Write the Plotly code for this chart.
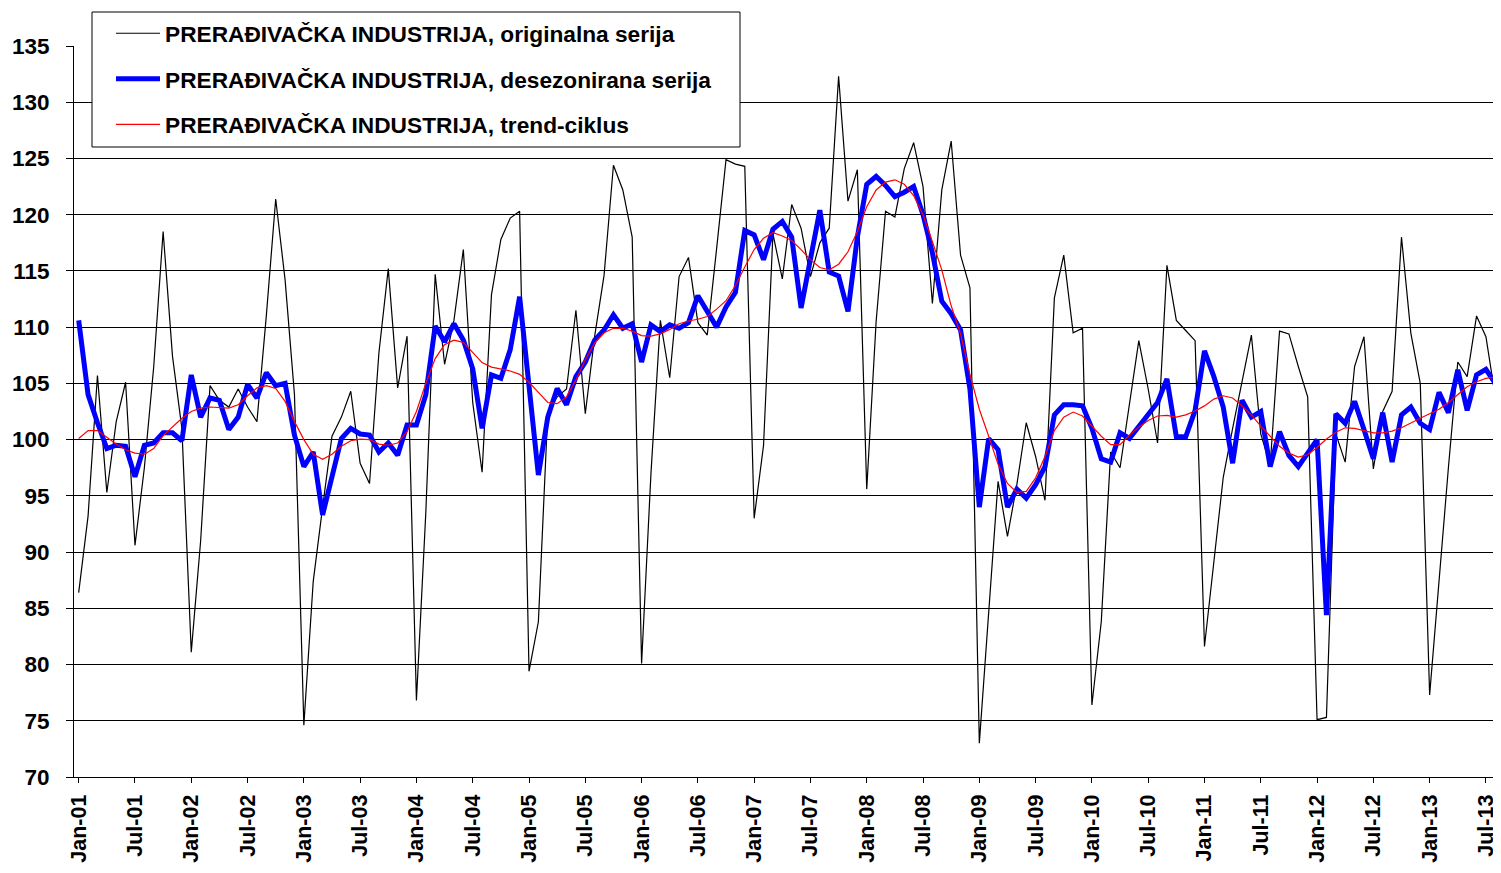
import plotly.graph_objects as go

# Monthly categories Jan-01 .. Aug-13
month_names = ["Jan", "Feb", "Mar", "Apr", "May", "Jun", "Jul", "Aug", "Sep", "Oct", "Nov", "Dec"]
categories = [f"{m}-{y:02d}" for y in range(1, 14) for m in month_names][:152]

tick_labels = ["Jan-01", "Jul-01", "Jan-02", "Jul-02", "Jan-03", "Jul-03", "Jan-04", "Jul-04",
               "Jan-05", "Jul-05", "Jan-06", "Jul-06", "Jan-07", "Jul-07", "Jan-08", "Jul-08",
               "Jan-09", "Jul-09", "Jan-10", "Jul-10", "Jan-11", "Jul-11", "Jan-12", "Jul-12",
               "Jan-13", "Jul-13"]

original = [
    86.4, 93.2, 105.7, 95.3, 101.6, 105.1, 90.6, 97.5, 106.5, 118.5, 107.4, 101.0,
    81.1, 91.0, 104.8, 103.5, 102.9, 104.5, 102.9, 101.6, 111.0, 121.4, 114.2, 104.0,
    74.6, 87.4, 94.0, 100.3, 102.0, 104.3, 97.9, 96.1, 107.7, 115.2, 104.6, 109.2,
    76.8, 93.5, 114.7, 106.7, 110.6, 116.9, 103.3, 97.1, 112.9, 117.8, 119.7, 120.3,
    79.4, 83.8, 102.4, 103.8, 104.5, 111.5, 102.3, 109.2, 114.6, 124.4, 122.2, 118.0,
    80.1, 97.0, 110.6, 105.5, 114.5, 116.2, 110.4, 109.3, 117.0, 124.9, 124.5, 124.3,
    93.0, 99.5, 118.3, 114.3, 120.9, 118.8, 114.5, 117.5, 118.8, 132.3, 121.2, 124.0,
    95.6, 110.5, 120.3, 119.8, 124.1, 126.4, 122.5, 112.1, 122.2, 126.55, 116.4, 113.5,
    73.0, 85.0, 96.3, 91.4, 96.0, 101.5, 98.5, 94.6, 112.6, 116.4, 109.5, 109.9,
    76.4, 83.8, 98.9, 97.5, 103.0, 108.8, 104.5, 99.7, 115.5, 110.6, 109.7, 108.8,
    81.6, 89.0, 96.65, 101.0, 105.0, 109.3, 100.5, 97.7, 109.65, 109.4, 106.5, 103.8,
    75.1, 75.3, 100.5, 98.0, 106.5, 109.15, 97.4, 102.5, 104.3, 118.0, 109.45, 105.0,
    77.3, 87.5, 97.5, 106.9, 105.6, 111.0, 109.15, 103.8,
]

seasonally_adjusted = [
    110.6, 104.0, 101.5, 99.2, 99.5, 99.4, 96.7, 99.5, 99.7, 100.6, 100.6, 99.9,
    105.75, 102.0, 103.7, 103.5, 100.9, 102.0, 104.9, 103.7, 105.95, 104.8, 105.0, 100.4,
    97.6, 98.9, 93.3, 96.8, 100.1, 101.0, 100.5, 100.4, 98.9, 99.7, 98.6, 101.3,
    101.3, 104.0, 110.1, 108.7, 110.3, 108.85, 106.3, 101.0, 105.75, 105.45, 108.0, 112.7,
    105.0, 96.85, 102.0, 104.55, 103.1, 105.6, 106.9, 108.85, 109.75, 111.1, 109.9, 110.3,
    106.9, 110.2, 109.6, 110.2, 109.9, 110.4, 112.8, 111.5, 110.0, 111.8, 113.1, 118.6,
    118.2, 116.0, 118.7, 119.4, 118.0, 111.7, 116.0, 120.4, 114.9, 114.55, 111.4, 118.0,
    122.7, 123.4, 122.6, 121.6, 122.0, 122.5, 120.0, 116.6, 112.3, 111.2, 109.75, 104.5,
    94.0, 100.1, 99.1, 94.0, 95.6, 94.8, 96.0, 97.6, 102.2, 103.1, 103.1, 103.0,
    101.0, 98.3, 98.0, 100.6, 100.1, 101.15, 102.3, 103.3, 105.4, 100.25, 100.25, 102.6,
    107.9, 105.6, 102.9, 97.9, 103.5, 102.0, 102.5, 97.6, 100.7, 98.6, 97.6, 98.8,
    100.0, 84.4, 102.3, 101.45, 103.4, 100.9, 98.3, 102.4, 98.0, 102.2, 102.9, 101.45,
    100.9, 104.2, 102.4, 106.2, 102.6, 105.75, 106.25, 105.0,
]

trend_cycle = [
    100.1, 100.8, 100.8, 100.2, 99.6, 99.1, 98.8, 98.7, 99.2, 100.35, 101.1, 101.9,
    102.5, 102.8, 102.9, 102.85, 102.8, 103.1, 103.9, 104.6, 104.8, 104.55, 103.4, 101.6,
    100.0, 98.7, 98.25, 98.7, 99.4, 99.9, 100.05, 100.0, 99.6, 99.5, 99.7, 100.7,
    102.5, 105.0, 107.2, 108.45, 108.85, 108.65, 107.75, 106.85, 106.45, 106.3, 106.1, 105.8,
    105.1, 104.2, 103.3, 103.2, 103.8, 105.3, 107.1, 108.6, 109.5, 109.9, 109.9, 109.65,
    109.25, 109.2, 109.4, 109.8, 110.3, 110.55, 110.7, 110.95, 111.6, 112.35, 113.7, 115.35,
    116.9, 117.9, 118.4, 118.1, 117.7, 116.9, 116.0, 115.3, 115.1, 115.6, 116.7, 118.5,
    120.7, 122.2, 122.9, 123.1, 122.7, 121.7, 120.0, 117.6, 115.1, 111.9, 109.4, 105.8,
    102.7, 100.3, 97.8, 96.1, 95.3, 95.4, 96.6, 98.5, 100.8, 102.0, 102.45, 102.1,
    101.2, 100.3, 99.55, 99.55, 100.4, 101.1, 101.7, 102.1, 102.15, 102.0, 102.2, 102.55,
    103.0, 103.6, 103.9, 103.7, 103.0, 102.2, 101.2, 100.3, 99.4, 98.8, 98.45, 98.65,
    99.3, 100.05, 100.65, 101.05, 101.0, 100.8, 100.6, 100.6, 100.75, 101.05, 101.5, 101.9,
    102.3, 102.7, 103.3, 104.0, 104.7, 105.15, 105.45, 105.55,
]

series_names = [
    "PRERAĐIVAČKA INDUSTRIJA, originalna serija",
    "PRERAĐIVAČKA INDUSTRIJA, desezonirana serija",
    "PRERAĐIVAČKA INDUSTRIJA, trend-ciklus",
]

FONT = "Arial, 'Liberation Sans', sans-serif"

# The page body has an 8px margin, so the figure starts at page (8, 8).
OFF = 8
W, H = 1501 - OFF, 873 - OFF
# plot area in page pixels: x 74..1500, y 46..777
ML, MR, MT, MB = 74 - OFF, (OFF + W) - 1500, 46 - OFF, (OFF + H) - 777
PW, PH = W - ML - MR, H - MT - MB


def px_x(p):
    # page pixel x -> paper coordinate
    return (p - OFF - ML) / PW


def px_y(p):
    # page pixel y -> paper coordinate
    return (OFF + H - MB - p) / PH


fig = go.Figure()
fig.add_trace(go.Scatter(x=categories, y=original, mode="lines", name=series_names[0],
                         line=dict(color="black", width=1.2), legendgroup="a"))
fig.add_trace(go.Scatter(x=categories, y=seasonally_adjusted, mode="lines", name=series_names[1],
                         line=dict(color="#0000FF", width=5), legendgroup="b"))
fig.add_trace(go.Scatter(x=categories, y=trend_cycle, mode="lines", name=series_names[2],
                         line=dict(color="#FF0000", width=1.2), legendgroup="c"))

# legend frame
fig.add_shape(type="rect", xref="paper", yref="paper",
              x0=px_x(92), x1=px_x(740), y0=px_y(147), y1=px_y(12),
              fillcolor="white", line=dict(color="black", width=1), layer="above")

fig.update_layout(
    width=W, height=H,
    margin=dict(l=ML, r=MR, t=MT, b=MB, autoexpand=False),
    paper_bgcolor="white", plot_bgcolor="white",
    font=dict(family=FONT, color="black"),
    showlegend=True,
    legend=dict(
        x=px_x(111), y=px_y(12), xanchor="left", yanchor="top",
        bgcolor="rgba(0,0,0,0)", borderwidth=0,
        font=dict(family=FONT, size=22.7, color="black", weight="bold"),
        traceorder="grouped", tracegroupgap=13, itemwidth=44,
    ),
    xaxis=dict(
        type="category", categoryorder="array", categoryarray=categories,
        range=[-0.5, len(categories) - 0.5], automargin=False,
        tickmode="array", tickvals=tick_labels, ticktext=tick_labels,
        tickangle=-90, tickfont=dict(family=FONT, size=21.5, color="black", weight="bold"),
        showline=True, linecolor="black", linewidth=1,
        ticks="outside", ticklen=5, tickcolor="black",
        ticklabelstandoff=3,
        showgrid=False, zeroline=False,
    ),
    yaxis=dict(
        range=[70, 135], dtick=5, tick0=70, automargin=False,
        tickfont=dict(family=FONT, size=22.5, color="black", weight="bold"),
        showline=True, linecolor="black", linewidth=1,
        ticks="outside", ticklen=7, tickcolor="black", ticklabelstandoff=12,
        showgrid=True, gridcolor="black", gridwidth=1,
        zeroline=False,
    ),
)

fig.write_html("out.html")
